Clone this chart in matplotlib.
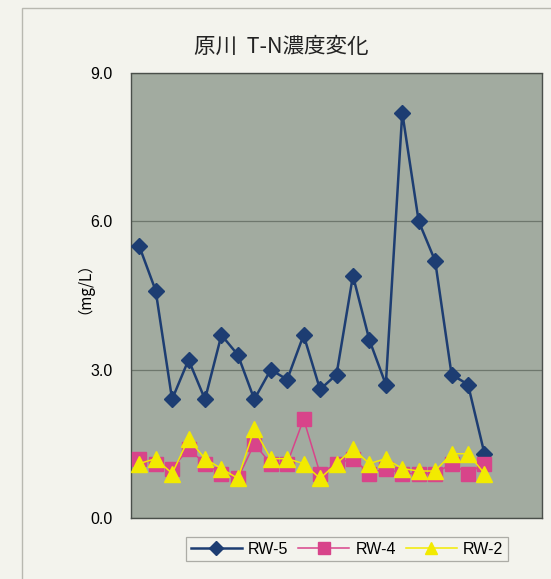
import numpy as np
import matplotlib
matplotlib.use('Agg')
import matplotlib.pyplot as plt
from matplotlib.patches import Rectangle

plt.rcParams['font.family'] = ['Liberation Sans', 'Noto Sans CJK JP', 'DejaVu Sans']

# 25 sampling slots on the x axis, only the first 22 measured
n_slots = 25
rw5 = [5.5, 4.6, 2.4, 3.2, 2.4, 3.7, 3.3, 2.4, 3.0, 2.8, 3.7, 2.6, 2.9, 4.9, 3.6, 2.7,
       8.2, 6.0, 5.2, 2.9, 2.7, 1.3]
rw4 = [1.2, 1.1, 1.0, 1.4, 1.1, 0.9, 0.8, 1.5, 1.1, 1.1, 2.0, 0.9, 1.1, 1.2, 0.9, 1.0,
       0.9, 0.9, 0.9, 1.1, 0.9, 1.1]
rw2 = [1.1, 1.2, 0.9, 1.6, 1.2, 1.0, 0.8, 1.8, 1.2, 1.2, 1.1, 0.8, 1.1, 1.4, 1.1, 1.2,
       1.0, 0.95, 0.95, 1.3, 1.3, 0.9]
series_names = ['RW-5', 'RW-4', 'RW-2']
yticks = [0.0, 3.0, 6.0, 9.0]

x = np.arange(len(rw5))

fig = plt.figure(figsize=(5.51, 5.79), dpi=100)
fig.patch.set_facecolor('#f3f3ed')

# outer chart frame (top and left edges visible)
fig.patches.append(Rectangle((22/551, -0.1), 1.2, 1.1 - 8/579, transform=fig.transFigure,
                             fill=False, edgecolor='#b8b8b0', linewidth=1.0))

ax = fig.add_axes([131/551, 61/579, 411/551, 445/579])
ax.set_facecolor('#a2aba0')

navy = '#1d3d72'
pink = '#d8448a'
yellow = '#f2ea00'

ax.plot(x, rw5, color=navy, lw=1.8, marker='D', ms=8.5, mfc=navy, mec=navy,
        label=series_names[0], zorder=3)
ax.plot(x, rw4, color=pink, lw=1.1, marker='s', ms=10, mfc=pink, mec=pink,
        label=series_names[1], zorder=4)
ax.plot(x, rw2, color=yellow, lw=1.1, marker='^', ms=11, mfc=yellow, mec=yellow,
        label=series_names[2], zorder=5)

ax.set_xlim(-0.5, n_slots - 0.5)
ax.set_ylim(0, 9)
ax.set_xticks([])
ax.set_yticks(yticks)
ax.set_yticklabels(['%.1f' % v for v in yticks], fontsize=11.5)
ax.tick_params(axis='y', length=0, pad=13)
ax.yaxis.grid(True, color='#6e776d', lw=0.9)
ax.set_axisbelow(True)
for s in ax.spines.values():
    s.set_color('#4a4f4a')
    s.set_linewidth(1.0)
    s.set_linestyle((0, (2, 1)))

ax.set_ylabel('（mg/L）', fontsize=11, labelpad=4,
              family=['Noto Sans CJK JP', 'DejaVu Sans'])
ax.yaxis.label.set_y(0.535)

fig.text(281/551, 1 - 47/579, '原川  T-N濃度変化', ha='center', va='center', fontsize=15.5,
         family=['Noto Sans CJK JP', 'DejaVu Sans'], color='#222222')

leg = fig.legend(loc='center', bbox_to_anchor=(347/551, 1 - 549/579), ncol=3,
                 fontsize=11.5, frameon=True, fancybox=False, handlelength=3.2,
                 columnspacing=0.6, handletextpad=0.4, borderpad=0.3,
                 markerscale=0.8)
leg.get_frame().set_edgecolor('#9a9a94')
leg.get_frame().set_facecolor('#f3f3ed')
leg.get_frame().set_linewidth(0.9)

fig.savefig('out.png', dpi=100, facecolor=fig.get_facecolor())
